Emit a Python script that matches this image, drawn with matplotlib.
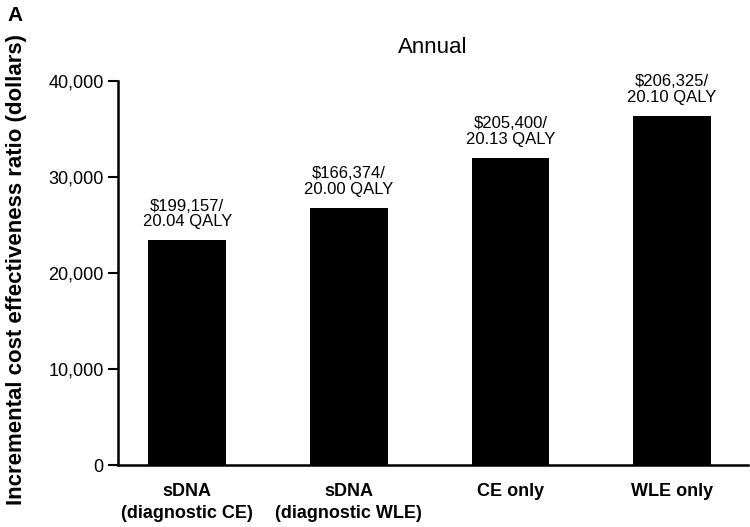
import numpy as np
import matplotlib.pyplot as plt

plt.rcParams['font.family'] = ['Liberation Sans', 'DejaVu Sans']

categories = ['sDNA\n(diagnostic CE)', 'sDNA\n(diagnostic WLE)', 'CE only', 'WLE only']
icer = [23400, 26800, 32000, 36350]
bar_labels = ['$199,157/\n20.04 QALY', '$166,374/\n20.00 QALY',
              '$205,400/\n20.13 QALY', '$206,325/\n20.10 QALY']

fig = plt.figure(figsize=(7.5, 5.27), dpi=100)
ax = fig.add_axes([0.157, 0.1176, 0.84, 0.7287])

x = np.arange(len(categories))
ax.bar(x, icer, width=0.48, color='black')

for xi, yi, lab in zip(x, icer, bar_labels):
    ax.annotate(lab, (xi, yi), xytext=(0, 8), textcoords='offset points',
                ha='center', va='bottom', fontsize=12, linespacing=1.05)

ax.set_xlim(-0.43, 3.47)
ax.set_ylim(0, 40000)
ax.set_yticks(np.arange(0, 40001, 10000))
ax.set_yticklabels(['0', '10,000', '20,000', '30,000', '40,000'], fontsize=13)
ax.set_xticks(x)
ax.set_xticklabels(categories, fontsize=13, fontweight='bold', linespacing=1.35)
ax.tick_params(axis='x', length=0, pad=13)
ax.tick_params(axis='y', length=7, width=1.5, pad=3)

for side in ['top', 'right']:
    ax.spines[side].set_visible(False)
ax.spines['left'].set_linewidth(1.8)
ax.spines['bottom'].set_linewidth(1.8)

ax.set_title('Annual', fontsize=16, pad=20)
ax.set_ylabel('Incremental cost effectiveness ratio (dollars)', fontsize=16,
              fontweight='bold')
ax.yaxis.set_label_coords(-0.144, 0.51)
fig.text(0.01, 0.988, 'A', fontsize=15, fontweight='bold', va='top', ha='left')

fig.savefig('out.png', dpi=100)
